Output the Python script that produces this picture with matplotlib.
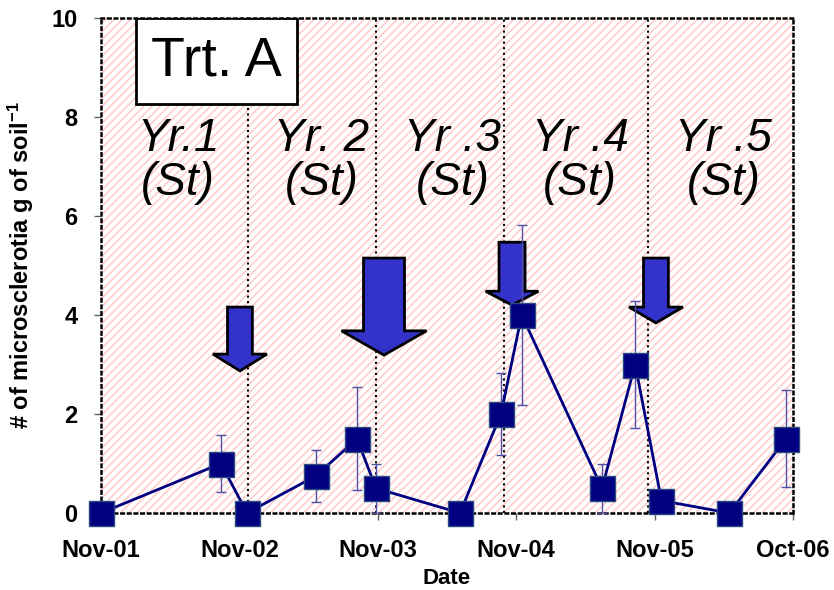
import numpy as np
import matplotlib.pyplot as plt
from matplotlib.patches import Rectangle, Polygon

plt.rcParams['font.family'] = 'Liberation Sans'
plt.rcParams['mathtext.fontset'] = 'custom'
plt.rcParams['mathtext.bf'] = 'Liberation Sans:bold'
plt.rcParams['mathtext.default'] = 'bf'
plt.rcParams['hatch.linewidth'] = 1.1

# sampling dates, in years after Nov-01
dates = [0, 0.867, 1.055, 1.553, 1.85, 1.987, 2.594, 2.89, 3.04, 3.62, 3.86, 4.05, 4.54, 4.95]
values = [0, 1.0, 0, 0.75, 1.5, 0.5, 0, 2.0, 4.0, 0.5, 3.0, 0.25, 0, 1.5]
errors = [0, 0.58, 0, 0.52, 1.04, 0.5, 0, 0.82, 1.82, 0.5, 1.28, 0, 0, 0.98]

tick_labels = ["Nov-01", "Nov-02", "Nov-03", "Nov-04", "Nov-05", "Oct-06"]

# season boundaries and labels
year_bounds = [1.062, 1.987, 2.912, 3.952]
year_text = ["Yr.1\n(St)", "Yr. 2\n(St)", "Yr .3\n(St)", "Yr .4\n(St)", "Yr .5\n(St)"]
year_text_x = [0.556, 1.597, 2.543, 3.461, 4.50]

# arrows: centre, top, tip, shaft half width, head half width, head length
arrow_x = [1.004, 2.045, 2.97, 4.01]
arrow_top = [4.16, 5.15, 5.47, 5.15]
arrow_tip = [2.87, 3.19, 4.20, 3.84]
arrow_shaft = [0.09, 0.148, 0.094, 0.09]
arrow_head = [0.195, 0.307, 0.191, 0.195]
arrow_hlen = [0.34, 0.49, 0.28, 0.32]

fig = plt.figure(figsize=(8.34, 5.90), dpi=100)
ax = fig.add_axes([0.1211, 0.1305, 0.8297, 0.839])
ax.set_xlim(0, 5)
ax.set_ylim(0, 10)

# pink hatched background
bg = Rectangle((0, 0), 1, 1, transform=ax.transAxes, facecolor='white',
               edgecolor='#ffcaca', hatch='////', linewidth=0, zorder=0)
ax.add_patch(bg)

for xb in year_bounds:
    ax.axvline(xb, color='black', linestyle=':', linewidth=1.5, zorder=1)

for x, t in zip(year_text_x, year_text):
    ax.text(x, 7.12, t, fontsize=33, style='italic', ha='center', va='center',
            linespacing=1.0, zorder=2)

for i in range(len(arrow_x)):
    cx = arrow_x[i]
    sw = arrow_shaft[i]
    hw = arrow_head[i]
    base = arrow_tip[i] + arrow_hlen[i]
    pts = [(cx - sw, arrow_top[i]), (cx + sw, arrow_top[i]), (cx + sw, base),
           (cx + hw, base), (cx, arrow_tip[i]), (cx - hw, base), (cx - sw, base)]
    ax.add_patch(Polygon(pts, closed=True, facecolor='#3333cc', edgecolor='black',
                         linewidth=2, joinstyle='miter', zorder=3))

ax.errorbar(dates, values, yerr=errors, fmt='none', ecolor='#5050a8',
            elinewidth=1, capsize=3.5, capthick=1, zorder=4)
ax.plot(dates, values, color='#000080', linewidth=2, marker='s', markersize=18,
        markerfacecolor='#000080', markeredgecolor='#2a4a80', markeredgewidth=1,
        zorder=5, clip_on=False)

# "Trt. A" box
ax.add_patch(Rectangle((0.051, 0.826), 0.232, 0.174, transform=ax.transAxes,
                       facecolor='white', edgecolor='black', linewidth=2, zorder=6))
ax.text(0.167, 0.913, "Trt. A", transform=ax.transAxes, fontsize=40,
        ha='center', va='center', zorder=7)

for side in ['left', 'right', 'top', 'bottom']:
    ax.spines[side].set_linestyle(':')
    ax.spines[side].set_linewidth(1.8)
    ax.spines[side].set_zorder(2)

ax.set_xticks(range(6))
ax.set_xticklabels(tick_labels)
ax.set_yticks([0, 2, 4, 6, 8, 10])
ax.tick_params(axis='both', direction='out', length=5, width=1, color='#606060',
               labelsize=17)
ax.tick_params(axis='x', pad=14)
ax.tick_params(axis='y', pad=12)
for lab in ax.get_xticklabels() + ax.get_yticklabels():
    lab.set_fontweight('bold')

ax.set_xlabel("Date", fontsize=16, fontweight='bold', labelpad=4)
ax.set_ylabel("# of microsclerotia g of soil$^{-1}$", fontsize=17, fontweight='bold')
ax.yaxis.set_label_coords(-0.094, 0.5)

fig.savefig("out.png", dpi=100)
